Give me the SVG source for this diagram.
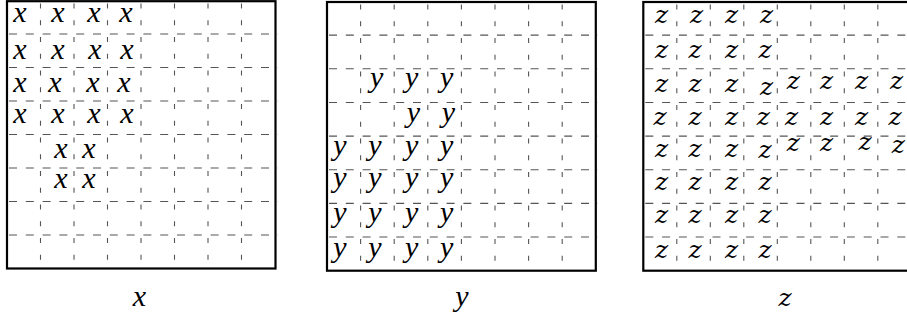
<svg xmlns="http://www.w3.org/2000/svg" width="907" height="322" viewBox="0 0 907 322">
<style>
.frame{fill:none;stroke:#000;stroke-width:2.2}
.h{stroke:#555;stroke-width:1.1;stroke-dasharray:8 8.8;stroke-dashoffset:-2}
.v{stroke:#555;stroke-width:1.1;stroke-dasharray:5 11.75;stroke-dashoffset:-3}
</style>
<rect width="907" height="322" fill="#fff"/>
<g id="connectors">
<g id="grid-x-lines">
<line class="h" x1="7" y1="34" x2="278" y2="34"/>
<line class="h" x1="7" y1="67.5" x2="278" y2="67.5"/>
<line class="h" x1="7" y1="101" x2="278" y2="101"/>
<line class="h" x1="7" y1="134.5" x2="278" y2="134.5"/>
<line class="h" x1="7" y1="168" x2="278" y2="168"/>
<line class="h" x1="7" y1="201.5" x2="278" y2="201.5"/>
<line class="h" x1="7" y1="235" x2="278" y2="235"/>
<line class="v" x1="40.5" y1="0.5" x2="40.5" y2="268.5"/>
<line class="v" x1="74" y1="0.5" x2="74" y2="268.5"/>
<line class="v" x1="107.5" y1="0.5" x2="107.5" y2="268.5"/>
<line class="v" x1="141" y1="0.5" x2="141" y2="268.5"/>
<line class="v" x1="174.5" y1="0.5" x2="174.5" y2="268.5"/>
<line class="v" x1="208" y1="0.5" x2="208" y2="268.5"/>
<line class="v" x1="241.5" y1="0.5" x2="241.5" y2="268.5"/>
</g>
<g id="grid-y-lines">
<line class="h" x1="327" y1="35.15" x2="598" y2="35.15"/>
<line class="h" x1="327" y1="68.8" x2="598" y2="68.8"/>
<line class="h" x1="327" y1="102.45" x2="598" y2="102.45"/>
<line class="h" x1="327" y1="136.1" x2="598" y2="136.1"/>
<line class="h" x1="327" y1="169.75" x2="598" y2="169.75"/>
<line class="h" x1="327" y1="203.4" x2="598" y2="203.4"/>
<line class="h" x1="327" y1="237.05" x2="598" y2="237.05"/>
<line class="v" x1="360.6" y1="1.5" x2="360.6" y2="270.7"/>
<line class="v" x1="394.2" y1="1.5" x2="394.2" y2="270.7"/>
<line class="v" x1="427.8" y1="1.5" x2="427.8" y2="270.7"/>
<line class="v" x1="461.4" y1="1.5" x2="461.4" y2="270.7"/>
<line class="v" x1="495" y1="1.5" x2="495" y2="270.7"/>
<line class="v" x1="528.6" y1="1.5" x2="528.6" y2="270.7"/>
<line class="v" x1="562.2" y1="1.5" x2="562.2" y2="270.7"/>
</g>
<g id="grid-z-lines">
<line class="h" x1="643.3" y1="35.15" x2="912" y2="35.15"/>
<line class="h" x1="643.3" y1="68.8" x2="912" y2="68.8"/>
<line class="h" x1="643.3" y1="102.45" x2="912" y2="102.45"/>
<line class="h" x1="643.3" y1="136.1" x2="912" y2="136.1"/>
<line class="h" x1="643.3" y1="169.75" x2="912" y2="169.75"/>
<line class="h" x1="643.3" y1="203.4" x2="912" y2="203.4"/>
<line class="h" x1="643.3" y1="237.05" x2="912" y2="237.05"/>
<line class="v" x1="676.8" y1="1.5" x2="676.8" y2="270.7"/>
<line class="v" x1="710.3" y1="1.5" x2="710.3" y2="270.7"/>
<line class="v" x1="743.8" y1="1.5" x2="743.8" y2="270.7"/>
<line class="v" x1="777.3" y1="1.5" x2="777.3" y2="270.7"/>
<line class="v" x1="810.8" y1="1.5" x2="810.8" y2="270.7"/>
<line class="v" x1="844.3" y1="1.5" x2="844.3" y2="270.7"/>
<line class="v" x1="877.8" y1="1.5" x2="877.8" y2="270.7"/>
</g>
</g>
<g id="grid-x" font-family="Liberation Serif, serif" font-style="italic" font-size="30" text-anchor="middle" fill="#000">
<rect class="frame" x="7" y="1.2" width="268.5" height="267.3"/>
<text x="20" y="22">x</text><text x="58" y="22">x</text><text x="94" y="22">x</text><text x="126" y="22">x</text>
<text x="20" y="59">x</text><text x="58" y="59">x</text><text x="95" y="59">x</text><text x="127" y="59">x</text>
<text x="20" y="92">x</text><text x="55" y="92">x</text><text x="93" y="92">x</text><text x="124" y="92">x</text>
<text x="20" y="123">x</text><text x="58" y="123">x</text><text x="94" y="123">x</text><text x="127" y="123">x</text>
<text x="61" y="158">x</text><text x="89" y="158">x</text>
<text x="61" y="188">x</text><text x="89" y="188">x</text>
<text x="139.5" y="306">x</text>
</g>
<g id="grid-y" font-family="Liberation Serif, serif" font-style="italic" font-size="30" text-anchor="middle" fill="#000">
<rect class="frame" x="327" y="2" width="268.8" height="268.7"/>
<text x="376.7" y="87">y</text><text x="411.7" y="87">y</text><text x="446.7" y="87">y</text>
<text x="413.3" y="121.5">y</text><text x="448.3" y="121.5">y</text>
<text x="340" y="155">y</text><text x="375" y="155">y</text><text x="411.7" y="155">y</text><text x="446.7" y="155">y</text>
<text x="340" y="187">y</text><text x="375" y="187">y</text><text x="411.7" y="187">y</text><text x="446.7" y="187">y</text>
<text x="340" y="222">y</text><text x="375" y="222">y</text><text x="411.7" y="222">y</text><text x="446.7" y="222">y</text>
<text x="340" y="257">y</text><text x="375" y="257">y</text><text x="411.7" y="257">y</text><text x="446.7" y="257">y</text>
<text x="462" y="306">y</text>
</g>
<g id="grid-z" font-family="DejaVu Serif, serif" font-style="italic" font-size="25" text-anchor="middle" fill="#000">
<rect class="frame" x="643.3" y="2" width="268" height="268.7"/>
<text x="661.7" y="23">z</text><text x="696.7" y="23">z</text><text x="731.7" y="23">z</text><text x="766.7" y="23">z</text>
<text x="661.7" y="58">z</text><text x="695" y="58">z</text><text x="731.7" y="58">z</text><text x="765" y="58">z</text>
<text x="661.7" y="91.5">z</text><text x="695" y="91.5">z</text><text x="731.7" y="91.5">z</text><text x="766.7" y="95">z</text><text x="793.3" y="88.5">z</text><text x="826.7" y="88.5">z</text><text x="861.7" y="88.5">z</text><text x="896.7" y="88.5">z</text>
<text x="660" y="125">z</text><text x="695" y="125">z</text><text x="731.7" y="125">z</text><text x="763.3" y="125">z</text><text x="791.7" y="125">z</text><text x="826.7" y="125">z</text><text x="861.7" y="125">z</text><text x="895" y="125">z</text>
<text x="661.7" y="157">z</text><text x="695" y="157">z</text><text x="731.7" y="157">z</text><text x="765" y="158">z</text><text x="793.3" y="150.5">z</text><text x="826.7" y="151">z</text><text x="865" y="150">z</text><text x="898.3" y="153">z</text>
<text x="661.7" y="190">z</text><text x="695" y="190">z</text><text x="731.7" y="190">z</text><text x="765" y="190">z</text>
<text x="661.7" y="223">z</text><text x="695" y="223">z</text><text x="731.7" y="223">z</text><text x="765" y="223">z</text>
<text x="661.7" y="258">z</text><text x="695" y="258">z</text><text x="731.7" y="258">z</text><text x="765" y="258">z</text>
<text x="785" y="306">z</text>
</g>
</svg>
